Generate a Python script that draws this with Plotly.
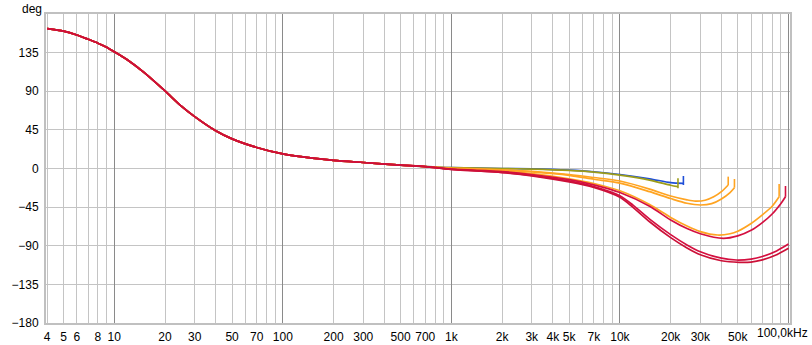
import plotly.graph_objects as go

# ---------------- data ----------------
# shared low-frequency part (all curves coincide)
f_lo = [4, 5, 6, 7, 8, 9, 10, 12, 15, 20, 25, 30, 40, 50, 70, 100, 150, 200, 300, 500, 700]
p_lo = [163, 160, 155.5, 150.5, 146, 141.3, 136, 126.4, 111.9, 90.3, 72.7, 60.5, 44, 34.5, 24.5,
        17, 12, 9.5, 7, 4, 2.3]

blue_f = [1000, 2000, 3000, 5000, 7000, 10000, 15000, 20000, 23800]
blue_p = [1, 0, -0.5, -2, -3.8, -7, -12, -16.5, -17.3]
blue_tick = [-8.7, -19.2]

olive_f = [1000, 2000, 3000, 5000, 7000, 10000, 15000, 20000, 22100]
olive_p = [1, 0, -0.7, -2.3, -4.2, -7.8, -13.5, -19.5, -21.2]
olive_tick = [-11.4, -23]

orangeA_f = [1000, 2000, 3000, 5000, 7000, 10000, 15000, 20000, 25000, 28000, 32000, 36000, 40000, 43900]
orangeA_p = [0.5, -1.5, -3.2, -7, -10.5, -14.6, -24, -32, -36.5, -38, -37, -33, -27, -19.2]
orangeA_tick = [-9.5, -19.2]

orangeB_f = [1000, 2000, 3000, 5000, 7000, 10000, 15000, 20000, 25000, 30000, 35000, 40000, 45000, 47800]
orangeB_p = [0, -2, -4, -8, -12.5, -17, -27, -35, -40.5, -42.5, -41, -35.5, -28, -22.4]
orangeB_tick = [-12.2, -22.4]

orangeC_f = [1000, 2000, 3000, 5000, 7000, 10000, 15000, 20000, 25000, 30000, 38000, 45000, 50000,
             60000, 70000, 80000, 88000]
orangeC_p = [-0.5, -3, -6, -12, -17.5, -26, -42, -57, -67, -73.5, -77.5, -76, -73, -64, -54, -44, -33]
orangeC_tick = [-18, -33]

red1_f = [1000, 2000, 3000, 5000, 7000, 10000, 15000, 20000, 25000, 30000, 41000, 50000, 60000,
          70000, 80000, 90000, 96000]
red1_p = [-0.8, -3.5, -7, -13, -19, -28, -44, -60, -70, -76, -81.4, -78.5, -72, -63, -53, -41, -33]
red1_tick = [-20.4, -33]

red2_f = [1000, 2000, 3000, 5000, 7000, 10000, 12000, 15000, 20000, 25000, 30000, 40000, 49000,
          60000, 70000, 85000, 100000]
red2_p = [-1, -4.5, -8, -14.5, -21, -31.7, -43, -59, -77, -89, -97, -104.5, -106.6, -105.5, -102.5, -96, -88]

red3_f = [1000, 2000, 3000, 5000, 7000, 10000, 12000, 15000, 20000, 25000, 30000, 40000, 51000,
          60000, 70000, 85000, 100000]
red3_p = [-1, -4.8, -8.5, -15.5, -22, -33.5, -45.5, -62, -80.5, -92.5, -100.5, -107.5, -109.3,
          -109, -106.5, -100.5, -93]

x_tickvals = [4, 5, 6, 8, 10, 20, 30, 50, 70, 100, 200, 300, 500, 700, 1000, 2000, 3000, 4000,
              5000, 7000, 10000, 20000, 30000, 50000]
x_ticktext = ["4", "5", "6", "8", "10", "20", "30", "50", "70", "100", "200", "300", "500", "700",
              "1k", "2k", "3k", "4k", "5k", "7k", "10k", "20k", "30k", "50k"]
x_last_label = "100,0kHz"
x_minor = [m * 10 ** e for e in range(0, 5) for m in range(1, 10) if 4 <= m * 10 ** e <= 100000]
x_decades = [10, 100, 1000, 10000, 100000]
y_tickvals = [-180, -135, -90, -45, 0, 45, 90, 135]

# ---------------- figure ----------------
fig = go.Figure()

series = [
    (blue_f, blue_p, blue_tick, "#1f4fd8"),
    (olive_f, olive_p, olive_tick, "#9c9c18"),
    (orangeA_f, orangeA_p, orangeA_tick, "#ffa422"),
    (orangeB_f, orangeB_p, orangeB_tick, "#ffa422"),
    (orangeC_f, orangeC_p, orangeC_tick, "#ffa422"),
    (red1_f, red1_p, red1_tick, "#d41040"),
    (red2_f, red2_p, None, "#d41040"),
    (red3_f, red3_p, None, "#cc1038"),
]

for f, p, tick, col in series:
    fig.add_trace(go.Scatter(x=f_lo + f, y=p_lo + p, mode="lines",
                             line=dict(color=col, width=1.7, shape="spline", smoothing=0.8),
                             hoverinfo="skip", showlegend=False))
    if tick is not None:
        fig.add_trace(go.Scatter(x=[f[-1]] * len(tick), y=tick, mode="lines",
                                 line=dict(color=col, width=1.6),
                                 hoverinfo="skip", showlegend=False))

grid_light = "#c4c4c4"
fig.update_layout(
    width=812, height=345,
    margin=dict(l=46, r=22, t=14, b=22),
    paper_bgcolor="white", plot_bgcolor="white",
    font=dict(family="Liberation Sans, Arial, sans-serif", size=12, color="#000"),
    xaxis=dict(type="log", range=[0.595, 5.009], tickvals=x_tickvals, ticktext=x_ticktext,
               showgrid=True, gridcolor=grid_light, gridwidth=1,
               minor=dict(tickvals=x_minor, showgrid=True, gridcolor=grid_light, gridwidth=1),
               showline=True, linecolor="#c0c0c0", linewidth=2, mirror=True,
               ticks="", zeroline=False, ticklabelstandoff=2, automargin=False),
    xaxis2=dict(type="log", range=[0.595, 5.009], overlaying="x", tickvals=x_decades,
                showticklabels=False, showgrid=True, gridcolor="#8a8a8a", gridwidth=1,
                ticks="", zeroline=False, showline=False, automargin=False),
    yaxis=dict(range=[-180, 180], tickvals=y_tickvals, showgrid=True, gridcolor=grid_light,
               gridwidth=1, zeroline=False, showline=True, linecolor="#c0c0c0", linewidth=2,
               mirror=True, ticks="", ticklabelstandoff=3, automargin=False),
)
# invisible trace to activate xaxis2
fig.add_trace(go.Scatter(x=[x_decades[0]], y=[0], xaxis="x2", mode="markers",
                         marker=dict(opacity=0), hoverinfo="skip", showlegend=False))

fig.add_annotation(text=x_last_label, xref="paper", yref="paper", x=1, y=0, yshift=-10,
                   xshift=20, showarrow=False, yanchor="middle", xanchor="right",
                   font=dict(size=12))
fig.add_annotation(text="deg", xref="paper", yref="paper", x=0, y=1, xshift=-14, yshift=14,
                   showarrow=False, xanchor="center", yanchor="top", font=dict(size=12))

fig.write_html("out.html", config={"displayModeBar": False},
               post_script="document.body.style.margin='0px';")
